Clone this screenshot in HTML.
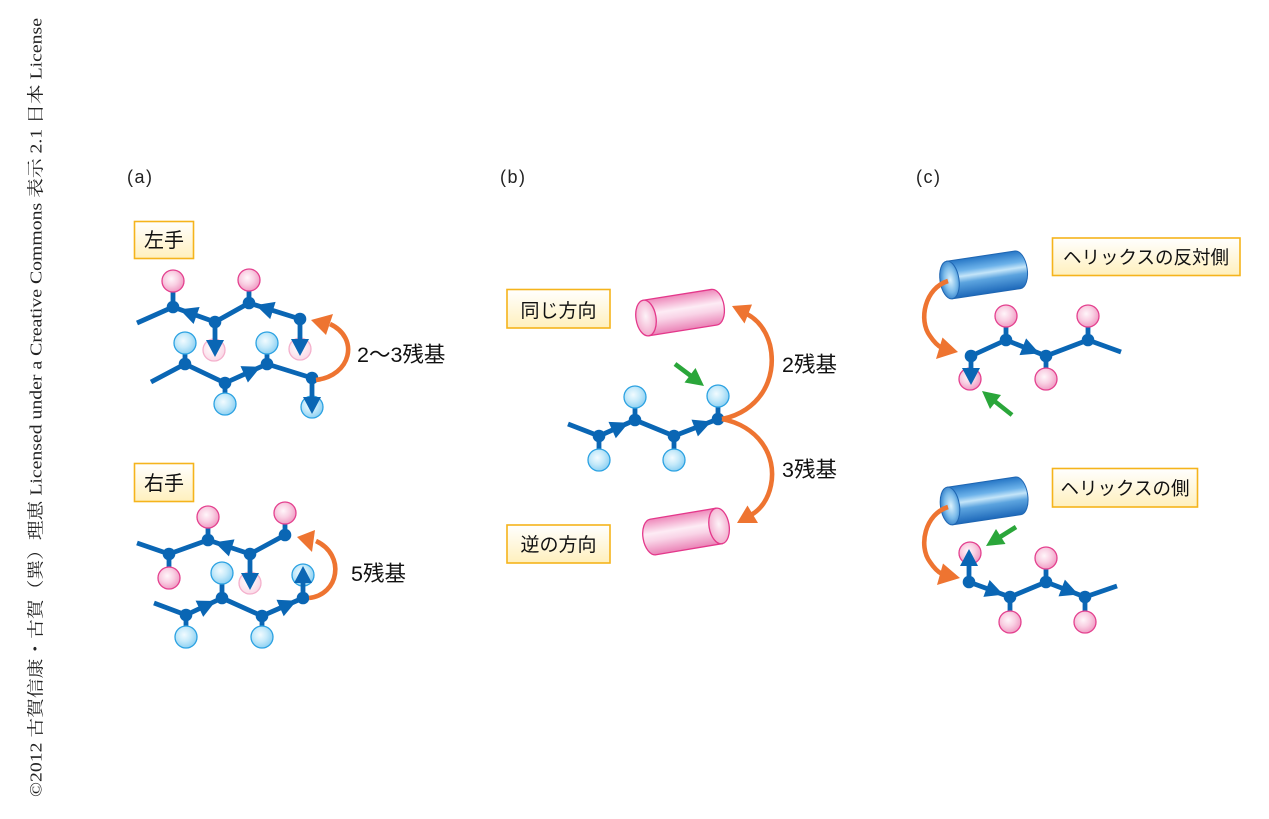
<!DOCTYPE html>
<html><head><meta charset="utf-8"><style>
html,body{margin:0;padding:0;background:#fff;}
svg{display:block;}
</style></head><body>
<svg width="1269" height="819" viewBox="0 0 1269 819" xmlns="http://www.w3.org/2000/svg">
<defs>
<radialGradient id="pinkBall" cx="0.42" cy="0.4" r="0.62"><stop offset="0" stop-color="#fff6fa"/><stop offset="0.5" stop-color="#f9d0e3"/><stop offset="1" stop-color="#f09ac3"/></radialGradient>
<radialGradient id="blueBall" cx="0.42" cy="0.4" r="0.62"><stop offset="0" stop-color="#f2fbff"/><stop offset="0.5" stop-color="#c6eafa"/><stop offset="1" stop-color="#8cd0f2"/></radialGradient>
<radialGradient id="fadeBall" cx="0.42" cy="0.4" r="0.62"><stop offset="0" stop-color="#ffffff"/><stop offset="1" stop-color="#fad8e6"/></radialGradient>
<linearGradient id="pinkBody" x1="0" y1="0" x2="0" y2="1"><stop offset="0" stop-color="#ee88ba"/><stop offset="0.4" stop-color="#fdecf5"/><stop offset="0.6" stop-color="#f9d4e7"/><stop offset="1" stop-color="#ea82b6"/></linearGradient>
<radialGradient id="pinkCap" cx="0.5" cy="0.45" r="0.6"><stop offset="0" stop-color="#fdf3f8"/><stop offset="1" stop-color="#f2a6ca"/></radialGradient>
<linearGradient id="blueBody" x1="0" y1="0" x2="0" y2="1"><stop offset="0" stop-color="#2676c6"/><stop offset="0.3" stop-color="#6cb2ea"/><stop offset="0.45" stop-color="#c4e5f9"/><stop offset="0.62" stop-color="#5ca4df"/><stop offset="1" stop-color="#1d68b9"/></linearGradient>
<radialGradient id="blueCap" cx="0.55" cy="0.5" r="0.6"><stop offset="0" stop-color="#dcf2fd"/><stop offset="0.55" stop-color="#7bbbea"/><stop offset="1" stop-color="#2272c2"/></radialGradient>
<linearGradient id="boxGrad" x1="0" y1="0" x2="0" y2="1"><stop offset="0" stop-color="#ffffff"/><stop offset="1" stop-color="#fff0bd"/></linearGradient>
</defs>

<!-- vertical credit -->
<text transform="translate(41.5,797) rotate(-90)" font-family="'Liberation Serif','Noto Serif CJK SC',serif" font-size="17" fill="#222" textLength="779" lengthAdjust="spacingAndGlyphs">©2012 古賀信康・古賀（巽）理恵 Licensed under a Creative Commons 表示 2.1 日本 License</text>

<g font-family="'Liberation Sans','Noto Sans CJK JP',sans-serif" fill="#222">
<text x="127" y="183" font-size="18" letter-spacing="1.5">(a)</text>
<text x="500" y="183" font-size="18" letter-spacing="1.5">(b)</text>
<text x="916" y="183" font-size="18" letter-spacing="1.5">(c)</text>
</g>

<!-- label boxes -->
<g stroke="#f5b41c" stroke-width="1.6" fill="url(#boxGrad)">
<rect x="134.5" y="221.5" width="59" height="37"/>
<rect x="134.5" y="463.5" width="59" height="38"/>
<rect x="507" y="289.5" width="103" height="38.5"/>
<rect x="507" y="525" width="103" height="38"/>
<rect x="1052.5" y="238" width="187.5" height="37.5"/>
<rect x="1052.5" y="468.5" width="145" height="38.5"/>
</g>
<g font-family="'Liberation Sans','Noto Sans CJK JP',sans-serif" fill="#111" text-anchor="middle">
<text x="164" y="247" font-size="20">左手</text>
<text x="164" y="490" font-size="20">右手</text>
<text x="558.5" y="317" font-size="19">同じ方向</text>
<text x="558.5" y="551" font-size="19">逆の方向</text>
<text x="1146" y="264" font-size="18.5">ヘリックスの反対側</text>
<text x="1125" y="495" font-size="18.5">ヘリックスの側</text>
</g>
<g font-family="'Liberation Sans','Noto Sans CJK JP',sans-serif" fill="#111" font-size="21.5">
<text x="357" y="362">2～3残基</text>
<text x="351" y="581">5残基</text>
<text x="782" y="372">2残基</text>
<text x="782" y="477">3残基</text>
</g>

<!-- stems -->
<g stroke="#0a66b4" stroke-width="4.8" stroke-linecap="butt">
<line x1="173" y1="307" x2="173" y2="281"/><line x1="249" y1="303" x2="249" y2="280"/>
<line x1="185" y1="364" x2="185" y2="343"/><line x1="267" y1="364" x2="267" y2="343"/>
<line x1="225" y1="383" x2="225" y2="404"/>
<line x1="208" y1="540" x2="208" y2="517"/><line x1="285" y1="535" x2="285" y2="513"/>
<line x1="169" y1="554" x2="169" y2="578"/><line x1="222" y1="598" x2="222" y2="573"/>
<line x1="186" y1="615" x2="186" y2="637"/><line x1="262" y1="616" x2="262" y2="637"/>
<line x1="635" y1="420" x2="635" y2="397"/><line x1="718" y1="419" x2="718" y2="396"/>
<line x1="599" y1="436" x2="599" y2="460"/><line x1="674" y1="436" x2="674" y2="460"/>
<line x1="1006" y1="340" x2="1006" y2="316"/><line x1="1088" y1="340" x2="1088" y2="316"/>
<line x1="1046" y1="356" x2="1046" y2="379"/>
<line x1="1046" y1="582" x2="1046" y2="558"/><line x1="1010" y1="597" x2="1010" y2="622"/>
<line x1="1085" y1="597" x2="1085" y2="622"/>
</g>

<!-- balls -->
<g stroke="#e4418f" stroke-width="1.3" fill="url(#pinkBall)">
<circle cx="173" cy="281" r="11"/><circle cx="249" cy="280" r="11"/>
<circle cx="208" cy="517" r="11"/><circle cx="285" cy="513" r="11"/><circle cx="169" cy="578" r="11"/>
<circle cx="1006" cy="316" r="11"/><circle cx="1088" cy="316" r="11"/><circle cx="1046" cy="379" r="11"/><circle cx="970" cy="379" r="11"/>
<circle cx="970" cy="553" r="11"/><circle cx="1046" cy="558" r="11"/><circle cx="1010" cy="622" r="11"/><circle cx="1085" cy="622" r="11"/>
</g>
<g stroke="#f4b0cc" stroke-width="1.3" fill="url(#fadeBall)">
<circle cx="214" cy="350" r="11"/><circle cx="300" cy="349" r="11"/><circle cx="250" cy="583" r="11"/>
</g>
<g stroke="#2ca2e2" stroke-width="1.3" fill="url(#blueBall)">
<circle cx="185" cy="343" r="11"/><circle cx="267" cy="343" r="11"/><circle cx="225" cy="404" r="11"/><circle cx="312" cy="407" r="11"/>
<circle cx="222" cy="573" r="11"/><circle cx="186" cy="637" r="11"/><circle cx="262" cy="637" r="11"/><circle cx="303" cy="575" r="11"/>
<circle cx="635" cy="397" r="11"/><circle cx="718" cy="396" r="11"/><circle cx="599" cy="460" r="11"/><circle cx="674" cy="460" r="11"/>
</g>

<!-- chains -->
<g stroke="#0a66b4" stroke-width="4.8" fill="none" stroke-linejoin="round">
<polyline points="137,323 173,307 215,322 249,303 300,319"/>
<polyline points="151,382 185,364 225,383 267,364 312,378"/>
<polyline points="137,543 169,554 208,540 250,554 285,535"/>
<polyline points="154,603 186,615 222,598 262,616 303,598"/>
<polyline points="568,424 599,436 635,420 674,436 718,419"/>
<polyline points="971,356 1006,340 1046,356 1088,340 1121,352"/>
<polyline points="969,582 1010,597 1046,582 1085,597 1117,586"/>
<line x1="215" y1="322" x2="215" y2="344"/><line x1="300" y1="319" x2="300" y2="342"/><line x1="312" y1="378" x2="312" y2="400"/>
<line x1="250" y1="554" x2="250" y2="576"/><line x1="303" y1="598" x2="303" y2="580"/>
<line x1="971" y1="356" x2="971" y2="371"/><line x1="969" y1="582" x2="969" y2="564"/>
</g>
<g fill="#0a66b4">
<circle cx="173" cy="307" r="6.3"/><circle cx="215" cy="322" r="6.3"/><circle cx="249" cy="303" r="6.3"/><circle cx="300" cy="319" r="6.3"/>
<circle cx="185" cy="364" r="6.3"/><circle cx="225" cy="383" r="6.3"/><circle cx="267" cy="364" r="6.3"/><circle cx="312" cy="378" r="6.3"/>
<circle cx="169" cy="554" r="6.3"/><circle cx="208" cy="540" r="6.3"/><circle cx="250" cy="554" r="6.3"/><circle cx="285" cy="535" r="6.3"/>
<circle cx="186" cy="615" r="6.3"/><circle cx="222" cy="598" r="6.3"/><circle cx="262" cy="616" r="6.3"/><circle cx="303" cy="598" r="6.3"/>
<circle cx="599" cy="436" r="6.3"/><circle cx="635" cy="420" r="6.3"/><circle cx="674" cy="436" r="6.3"/><circle cx="718" cy="419" r="6.3"/>
<circle cx="971" cy="356" r="6.3"/><circle cx="1006" cy="340" r="6.3"/><circle cx="1046" cy="356" r="6.3"/><circle cx="1088" cy="340" r="6.3"/>
<circle cx="969" cy="582" r="6.3"/><circle cx="1010" cy="597" r="6.3"/><circle cx="1046" cy="582" r="6.3"/><circle cx="1085" cy="597" r="6.3"/>
<!-- arrowheads -->
<polygon points="179.6,309.4 199.6,307.0 193.6,324.0"/>
<polygon points="255.7,305.1 275.6,301.9 270.2,319.1"/>
<polygon points="260.6,366.9 247.9,382.5 240.5,366.1"/>
<polygon points="206,340 224,340 215,357"/>
<polygon points="291,339 309,339 300,356"/>
<polygon points="303,397 321,397 312,414"/>
<polygon points="214.6,542.2 234.5,539.4 228.9,556.4"/>
<polygon points="215.7,601 203.2,616.9 195.6,600.6"/>
<polygon points="296.6,600.8 283.7,616.2 276.5,599.8"/>
<polygon points="241,573 259,573 250,590"/>
<polygon points="294,583 312,583 303,566"/>
<polygon points="628.6,422.8 615.8,438.3 608.5,421.9"/>
<polygon points="711.5,421.5 697.9,436.4 691.5,419.6"/>
<polygon points="1039.5,353.4 1019.5,355.1 1026.1,338.4"/>
<polygon points="962,368 980,368 971,385"/>
<polygon points="1003.4,594.6 983.4,596.9 989.6,580"/>
<polygon points="1078.5,594.5 1058.5,596.4 1064.9,579.6"/>
<polygon points="960,566 978,566 969,549"/>
</g>

<!-- cylinders -->
<g transform="translate(646,318) rotate(-9)" stroke="#e4388b" stroke-width="1.3">
<path d="M0,-18 L69,-18 A10,18 0 0 1 69,18 L0,18 Z" fill="url(#pinkBody)"/>
<ellipse cx="0" cy="0" rx="10" ry="18" fill="url(#pinkCap)"/>
</g>
<g transform="translate(653,537) rotate(-9.5)" stroke="#e4388b" stroke-width="1.3">
<path d="M67,-18 L0,-18 A10,18 0 0 0 0,18 L67,18 Z" fill="url(#pinkBody)"/>
<ellipse cx="67" cy="0" rx="10" ry="18" fill="url(#pinkCap)"/>
</g>
<g transform="translate(949.5,280) rotate(-8.5)" stroke="#1f66b2" stroke-width="1">
<path d="M0,-19 L69,-19 A9.5,19 0 0 1 69,19 L0,19 Z" fill="url(#blueBody)"/>
<ellipse cx="0" cy="0" rx="9.5" ry="19" fill="url(#blueCap)"/>
</g>
<g transform="translate(950,506) rotate(-8.5)" stroke="#1f66b2" stroke-width="1">
<path d="M0,-19 L69,-19 A9.5,19 0 0 1 69,19 L0,19 Z" fill="url(#blueBody)"/>
<ellipse cx="0" cy="0" rx="9.5" ry="19" fill="url(#blueCap)"/>
</g>

<!-- orange arrows -->
<g stroke="#ee7431" stroke-width="4.6" fill="none" stroke-linecap="butt">
<path d="M316,380 C351,376 360,338 330,324"/>
<path d="M309,598 C339,595 346,555 316,541"/>
<path d="M722,419 C758,412 778,380 770,345 C766,330 758,320 747,314"/>
<path d="M722,419 C758,426 777,455 771,485 C768,500 760,510 751,515"/>
<path d="M948,281 C925,288 918,320 930,336 C934,342 938,346 942,348"/>
<path d="M948,507 C925,514 918,546 930,562 C934,568 938,572 942,574"/>
</g>
<g fill="#ee7431">
<polygon points="311,320 333,314 326,335"/>
<polygon points="297,537 315,530 312,552"/>
<polygon points="732,306 752,304.5 744.5,323.5"/>
<polygon points="737,523 747.5,505.5 758,523"/>
<polygon points="958,352 936,359 942.5,337.5"/>
<polygon points="960,578 937,585 943,563.5"/>
</g>

<!-- green arrows -->
<g stroke="#2aa63a" stroke-width="4.6" fill="none">
<line x1="675" y1="364" x2="691" y2="376"/>
<line x1="1012" y1="415" x2="995" y2="401.5"/>
<line x1="1016" y1="527" x2="1000" y2="537"/>
</g>
<g fill="#2aa63a">
<polygon points="704,386 684.5,382.5 695.5,368"/>
<polygon points="982,391 1001,395 990,409"/>
<polygon points="986,546 996,529 1005.5,544"/>
</g>
</svg>
</body></html>
